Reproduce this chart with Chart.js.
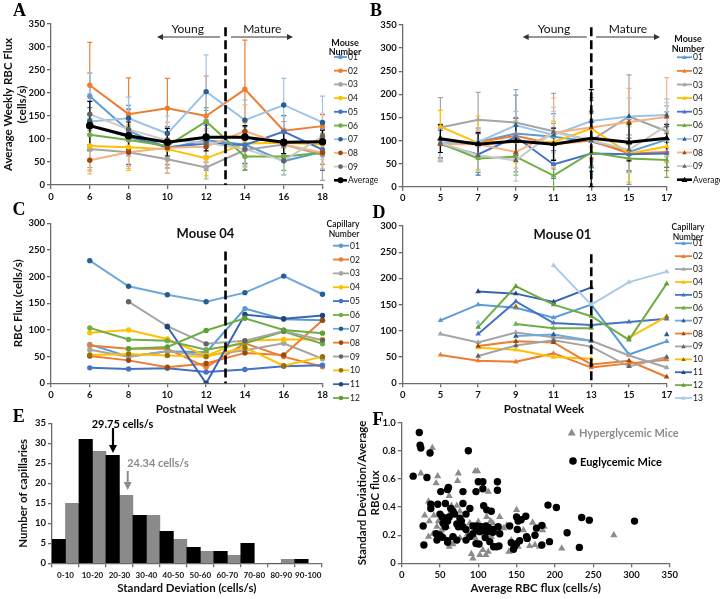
<!DOCTYPE html>
<html>
<head>
<meta charset="utf-8">
<title>RBC flux figure</title>
<script src="https://cdn.jsdelivr.net/npm/chart.js@4.4.1/dist/chart.umd.min.js"></script>
<style>
  body { margin: 0; background: #fff; }
  #fig { position: relative; width: 720px; height: 599px; overflow: hidden; background: #fff; }
  #fig canvas { position: absolute; }
  #overlay { position: absolute; left: 0; top: 0; }
</style>
</head>
<body>
<div id="fig">
  <canvas id="chartA" width="330" height="205" style="left:0;top:0"></canvas>
  <canvas id="chartB" width="315" height="207" style="left:360px;top:0"></canvas>
  <canvas id="chartC" width="330" height="214" style="left:0;top:205px"></canvas>
  <canvas id="chartD" width="315" height="214" style="left:360px;top:205px"></canvas>
  <canvas id="chartE" width="330" height="184" style="left:0;top:415px"></canvas>
  <canvas id="chartF" width="330" height="184" style="left:350px;top:415px"></canvas>
  <svg id="overlay" width="720" height="599"></svg>
</div>
<script>
// categories
const weeksA = ['0', '6', '8', '10', '12', '14', '16', '18'];
const weeksB = ['0', '5', '7', '9', '11', '13', '15', '17'];
const mouseNames = ['01', '02', '03', '04', '05', '06', '07', '08', '09', 'Average'];
const capNamesC = ['01', '02', '03', '04', '05', '06', '07', '08', '09', '10', '11', '12'];
const capNamesD = ['01', '02', '03', '04', '05', '06', '07', '08', '09', '10', '11', '12', '13'];

// A: weekly average flux per mouse (weeks 6..18), last row = average
const fluxA = [
  [193, 118, 80, 97, 88, 52, 72],
  [217, 154, 167, 150, 208, 118, 128],
  [78, 71, 56, 38, 76, 88, 65],
  [85, 82, 78, 58, 90, 92, 88],
  [128, 105, 82, 90, 87, 116, 77],
  [109, 98, 85, 138, 62, 62, 70],
  [138, 145, 112, 203, 141, 174, 136],
  [54, 71, 81, 83, 117, 88, 70],
  [154, 121, 97, 92, 78, 53, 106],
  [129, 107, 93, 104, 104, 93, 94]
];
const errA = [
  [50, 55, 35, 65, 55, 30, 40],
  [93, 79, 65, 87, 107, 20, 25],
  [40, 30, 30, 25, 35, 35, 55],
  [55, 50, 35, 38, 45, 30, 25],
  [40, 60, 45, 40, 40, 35, 45],
  [35, 30, 30, 30, 30, 30, 25],
  [105, 46, 38, 80, 44, 58, 57],
  [30, 35, 55, 35, 57, 30, 35],
  [45, 40, 40, 50, 40, 30, 50],
  [53, 30, 30, 30, 25, 25, 25]
];

// B: weeks 5..17
const fluxB = [
  [95, 97, 115, 108, 98, 75, 102],
  [92, 96, 110, 92, 100, 72, 75],
  [128, 145, 139, 120, 100, 152, 120],
  [130, 95, 97, 97, 126, 72, 87],
  [92, 70, 108, 48, 72, 70, 72],
  [94, 61, 65, 24, 74, 61, 58],
  [95, 97, 133, 112, 142, 152, 155],
  [92, 92, 75, 117, 128, 140, 151],
  [95, 68, 57, 118, 100, 80, 132],
  [104, 92, 99, 92, 105, 96, 105]
];
const errB = [
  [40, 30, 83, 50, 65, 70, 60],
  [35, 25, 40, 45, 40, 40, 40],
  [65, 59, 71, 82, 60, 90, 55],
  [35, 58, 45, 45, 40, 62, 35],
  [30, 45, 40, 30, 30, 35, 30],
  [40, 30, 40, 25, 30, 30, 38],
  [40, 30, 30, 60, 45, 40, 35],
  [35, 30, 35, 75, 65, 73, 85],
  [35, 35, 45, 45, 45, 50, 50],
  [30, 25, 40, 35, 105, 40, 30]
];

// C: mouse 04 capillaries, weeks 6..18
const fluxC = [
  [73, 50, 60, 58, 140, 120, 118],
  [71, 65, 65, 30, 75, 50, 31],
  [63, 50, 60, 52, 62, 75, 46],
  [95, 100, 83, 52, 80, 82, 82],
  [29, 27, 28, 21, 26, 32, 34],
  [104, 82, 80, 63, 75, 97, 74],
  [230, 182, 166, 153, 170, 201, 167],
  [51, 43, 30, 37, 57, 53, 118],
  [null, 153, 107, 74, 80, 98, 81],
  [53, 55, 52, 50, 67, 33, 50],
  [null, null, 106, 0, 129, 121, 127],
  [null, 65, 68, 99, 122, 100, 94]
];

// D: mouse 01 capillaries, weeks 5..17
const fluxD = [
  [120, 150, 144, 125, 150, 55, 80],
  [54, 43, 41, 57, 30, 38, 45],
  [94, 78, 97, 88, 81, 53, 30],
  [null, 68, 64, 50, 47, null, null],
  [null, 94, 156, 115, 111, 117, 123],
  [null, null, 113, 105, 105, null, null],
  [null, null, 90, 93, 81, null, 93],
  [null, 71, 80, 78, 36, 43, 12],
  [null, 52, 72, 82, 70, 32, 50],
  [null, null, 146, null, null, 87, 127],
  [null, 175, 171, 155, 183, null, null],
  [null, 107, 185, 150, 128, 83, 190],
  [null, 116, null, 225, 150, 193, 213]
];

// E: histogram of standard deviation
const sdBins = ['0-10', '10-20', '20-30', '30-40', '40-50', '50-60', '60-70', '70-80', '80-90', '90-100'];
const sdEu = [6, 31, 27, 12, 8, 4, 3, 5, 0, 1];
const sdHy = [15, 28, 17, 12, 6, 3, 2, 0, 1, 0];

// F: SD/average vs average flux
const euFlux = [23, 24, 25, 37, 87, 15, 33, 51, 60, 61, 80, 97, 100, 106, 106, 125, 125, 38, 38, 47,
  57, 80, 107, 111, 117, 89, 84, 64, 67, 69, 50, 53, 57, 60, 62, 76, 78, 28, 54, 57,
  72, 74, 80, 84, 93, 98, 101, 104, 110, 113, 120, 126, 98, 102, 107, 112, 119, 128, 45, 50,
  53, 46, 60, 60, 67, 72, 84, 89, 93, 97, 101, 109, 115, 120, 124, 127, 29, 141, 143, 146,
  147, 150, 152, 156, 162, 151, 150, 154, 163, 164, 174, 176, 183, 183, 193, 191, 202, 216, 232, 235,
  245, 304];
const euRatio = [0.93, 0.84, 0.82, 0.785, 0.80, 0.62, 0.61, 0.51, 0.525, 0.54, 0.51, 0.51, 0.58, 0.58, 0.53, 0.58, 0.52, 0.42, 0.39, 0.42,
  0.425, 0.425, 0.41, 0.38, 0.37, 0.39, 0.35, 0.39, 0.37, 0.35, 0.35, 0.33, 0.32, 0.30, 0.33, 0.32, 0.30, 0.265, 0.285, 0.26,
  0.28, 0.26, 0.26, 0.24, 0.265, 0.265, 0.26, 0.26, 0.265, 0.255, 0.24, 0.26, 0.24, 0.225, 0.235, 0.225, 0.22, 0.21, 0.21, 0.20,
  0.185, 0.165, 0.16, 0.15, 0.19, 0.165, 0.165, 0.19, 0.21, 0.14, 0.137, 0.184, 0.154, 0.118, 0.118, 0.123, 0.13, 0.265, 0.147, 0.10,
  0.118, 0.33, 0.30, 0.31, 0.335, 0.24, 0.14, 0.16, 0.19, 0.177, 0.20, 0.25, 0.27, 0.13, 0.154, 0.414, 0.397, 0.217, 0.113, 0.326,
  0.307, 0.30];
const hyFlux = [25, 40, 47, 45, 74, 73, 96, 99, 113, 35, 30, 36, 42, 62, 65, 72, 76, 35, 41, 48,
  63, 59, 65, 70, 62, 67, 76, 86, 89, 91, 93, 100, 102, 106, 110, 113, 111, 116, 119, 117,
  133, 137, 140, 143, 150, 152, 159, 167, 171, 174, 180, 184, 186, 209, 277, 52, 57, 80, 96, 128, 46];
const hyRatio = [0.64, 0.82, 0.62, 0.57, 0.64, 0.586, 0.655, 0.655, 0.51, 0.44, 0.34, 0.30, 0.34, 0.48, 0.41, 0.41, 0.37, 0.19, 0.21, 0.30,
  0.355, 0.26, 0.19, 0.18, 0.118, 0.137, 0.18, 0.21, 0.285, 0.066, 0.035, 0.295, 0.06, 0.095, 0.06, 0.083, 0.33, 0.30, 0.285, 0.19,
  0.25, 0.27, 0.083, 0.165, 0.38, 0.118, 0.236, 0.123, 0.29, 0.13, 0.118, 0.236, 0.26, 0.106, 0.20, 0.236, 0.177, 0.25, 0.18, 0.33, 0.26];

// colours (Excel-like palette)
const mouseLine = ['#5B9BD5', '#ED7D31', '#A5A5A5', '#FFC000', '#4472C4', '#70AD47', '#9DC3E6', '#F4B183', '#C9C9C9', '#000000'];
const mouseMark = ['#5B9BD5', '#ED7D31', '#A5A5A5', '#FFC000', '#4472C4', '#70AD47', '#255E91', '#9E480E', '#636363', '#000000'];
const capLine = ['#5B9BD5', '#ED7D31', '#A5A5A5', '#FFC000', '#4472C4', '#70AD47', '#6FA8DC', '#ED7D31', '#A5A5A5', '#FFC000', '#3B64B5', '#70AD47', '#A9CBEA'];
const capMark = ['#5B9BD5', '#ED7D31', '#A5A5A5', '#FFC000', '#4472C4', '#70AD47', '#255E91', '#9E480E', '#636363', '#997300', '#264478', '#5E9E34', '#A9CBEA'];

Chart.defaults.font.family = 'Lato, "Open Sans", sans-serif';
Chart.defaults.color = '#111';
const axisGrey = '#6b6b6b';
const tickFont = { size: 9.5, weight: 'bold' };

const errorBars = {
  id: 'errorBars',
  beforeDatasetsDraw(chart) {
    const { ctx, scales: { y } } = chart;
    chart.data.datasets.forEach((ds, i) => {
      if (!ds.errors) return;
      const pts = chart.getDatasetMeta(i).data;
      ctx.save();
      ctx.strokeStyle = ds.errorColor;
      ctx.lineWidth = 1.2;
      ds.data.forEach((v, j) => {
        const e = ds.errors[j];
        if (v == null || e == null) return;
        const x = pts[j].x;
        const top = y.getPixelForValue(v + e);
        const bot = y.getPixelForValue(Math.max(0, v - e));
        ctx.beginPath();
        ctx.moveTo(x, top); ctx.lineTo(x, bot);
        ctx.moveTo(x - 2.5, top); ctx.lineTo(x + 2.5, top);
        ctx.moveTo(x - 2.5, bot); ctx.lineTo(x + 2.5, bot);
        ctx.stroke();
      });
      ctx.restore();
    });
  }
};

const weekLine = {
  id: 'weekLine',
  afterDatasetsDraw(chart, args, opts) {
    const { ctx, scales: { x, y } } = chart;
    const px = x.getPixelForValue(opts.at);
    ctx.save();
    ctx.strokeStyle = '#000';
    ctx.lineWidth = 2.6;
    ctx.setLineDash([9, 4]);
    ctx.beginPath();
    ctx.moveTo(px, y.getPixelForValue(opts.top));
    ctx.lineTo(px, y.getPixelForValue(0));
    ctx.stroke();
    ctx.restore();
  }
};

function gridTicks() {
  return { display: true, drawOnChartArea: false, drawTicks: true, tickLength: 4, color: axisGrey, lineWidth: 1.3 };
}

function lineChart(id, labels, rows, errs, names, lc, mc, style, o) {
  const n = rows.length;
  const datasets = rows.map((r, i) => {
    const avg = names[i] === 'Average';
    return {
      label: names[i],
      data: [null, ...r],
      errors: errs ? [null, ...errs[i]] : null,
      errorColor: lc[i],
      borderColor: lc[i],
      backgroundColor: mc[i],
      pointBackgroundColor: mc[i],
      pointBorderColor: mc[i],
      pointBorderWidth: 0,
      pointStyle: style,
      pointRadius: avg ? 3.8 : (style === 'triangle' ? 3.2 : 2.7),
      borderWidth: avg ? 3 : 2,
      spanGaps: false,
      order: n - i
    };
  });
  return new Chart(document.getElementById(id), {
    type: 'line',
    data: { labels, datasets },
    options: {
      responsive: false,
      animation: false,
      events: [],
      layout: { padding: o.pad },
      plugins: { legend: { display: false }, tooltip: { enabled: false }, weekLine: { at: o.at, top: o.top } },
      scales: {
        x: {
          type: 'category', offset: false,
          border: { display: true, color: axisGrey, width: 1.3 },
          grid: gridTicks(),
          ticks: { font: tickFont, padding: 2, maxRotation: 0, autoSkip: false },
          afterFit: s => { s.height = o.xh; }
        },
        y: {
          min: 0, max: o.ymax,
          border: { display: true, color: axisGrey, width: 1.3 },
          grid: gridTicks(),
          ticks: { stepSize: 50, font: tickFont, padding: 2 },
          title: o.ytitle ? { display: true, text: o.ytitle, font: { size: 11.5, weight: 'bold' }, padding: { top: o.ytp, bottom: 0 } } : { display: false },
          afterFit: s => { s.width = o.yw; }
        }
      }
    },
    plugins: [errorBars, weekLine]
  });
}

lineChart('chartA', weeksA, fluxA, errA, mouseNames, mouseLine, mouseMark, 'circle',
  { pad: { top: 24, right: 7, left: 0, bottom: 0 }, xh: 20, yw: 51, ymax: 350, at: 4.5, top: 343,
    ytitle: ['Average Weekly RBC Flux', '(cells/s)'], ytp: 1.2 });
lineChart('chartB', weeksB, fluxB, errB, mouseNames, mouseLine, mouseMark, 'triangle',
  { pad: { top: 25, right: 8.3, left: 0, bottom: 0 }, xh: 20.3, yw: 42.7, ymax: 350, at: 5, top: 345 });
lineChart('chartC', weeksA, fluxC, null, capNamesC, capLine, capMark, 'circle',
  { pad: { top: 18.3, right: 7, left: 0, bottom: 0 }, xh: 35.7, yw: 51, ymax: 300, at: 4.5, top: 247,
    ytitle: 'RBC Flux (cells/s)', ytp: 11 });
lineChart('chartD', weeksB, fluxD, null, capNamesD, capLine, capMark, 'triangle',
  { pad: { top: 21, right: 8.3, left: 0, bottom: 0 }, xh: 35.7, yw: 42.7, ymax: 300, at: 5, top: 246 });

new Chart(document.getElementById('chartE'), {
  type: 'bar',
  data: {
    labels: sdBins,
    datasets: [
      { label: 'Euglycemic', data: sdEu, backgroundColor: '#000', barPercentage: 1, categoryPercentage: 1 },
      { label: 'Hyperglycemic', data: sdHy, backgroundColor: '#8a8a8a', barPercentage: 1, categoryPercentage: 1 }
    ]
  },
  options: {
    responsive: false, animation: false, events: [],
    layout: { padding: { top: 8.3, right: 8.3, left: 0, bottom: 0 } },
    plugins: { legend: { display: false }, tooltip: { enabled: false } },
    scales: {
      x: {
        border: { display: true, color: axisGrey, width: 1.3 },
        grid: Object.assign(gridTicks(), { offset: true }),
        ticks: { font: { size: 8, weight: 'bold' }, padding: 3, maxRotation: 0, autoSkip: false },
        title: { display: true, text: 'Standard Deviation (cells/s)', font: { size: 11.5, weight: 'bold' }, padding: { top: 0, bottom: 4 } },
        afterFit: s => { s.height = 35.7; }
      },
      y: {
        min: 0, max: 35,
        border: { display: true, color: axisGrey, width: 1.3 },
        grid: gridTicks(),
        ticks: { stepSize: 5, font: tickFont, padding: 2 },
        title: { display: true, text: 'Number of capillaries', font: { size: 11.5, weight: 'bold' }, padding: { top: 16, bottom: 0 } },
        afterFit: s => { s.width = 52; }
      }
    }
  }
});

new Chart(document.getElementById('chartF'), {
  type: 'scatter',
  data: {
    datasets: [
      { label: 'Euglycemic Mice', data: euFlux.map((x, i) => ({ x, y: euRatio[i] })),
        pointStyle: 'circle', pointRadius: 3.7, pointBorderWidth: 0, backgroundColor: '#000', borderColor: '#000', order: 0 },
      { label: 'Hyperglycemic Mice', data: hyFlux.map((x, i) => ({ x, y: hyRatio[i] })),
        pointStyle: 'triangle', pointRadius: 4.2, pointBorderWidth: 0, backgroundColor: '#8c8c8c', borderColor: '#8c8c8c', order: 1 }
    ]
  },
  options: {
    responsive: false, animation: false, events: [],
    layout: { padding: { top: 7.3, right: 10, left: 0, bottom: 0 } },
    plugins: { legend: { display: false }, tooltip: { enabled: false } },
    scales: {
      x: {
        type: 'linear', min: 0, max: 350,
        border: { display: true, color: axisGrey, width: 1.3 },
        grid: gridTicks(),
        ticks: { stepSize: 50, font: tickFont, padding: 2, maxRotation: 0 },
        title: { display: true, text: 'Average RBC flux (cells/s)', font: { size: 11.5, weight: 'bold' }, padding: { top: 0, bottom: 4 } },
        afterFit: s => { s.height = 35.7; }
      },
      y: {
        min: 0, max: 1,
        border: { display: true, color: axisGrey, width: 1.3 },
        grid: gridTicks(),
        ticks: { stepSize: 0.2, font: tickFont, padding: 2 },
        title: { display: true, text: ['Standard Deviation/Average', 'RBC flux'], font: { size: 11.5, weight: 'bold' }, padding: { top: 5, bottom: 0 } },
        afterFit: s => { s.width = 51.7; }
      }
    }
  }
});

// overlay: panel letters, annotations, legends
const ov = [];
function T(x, y, s, o = {}) {
  ov.push(`<text x="${x}" y="${y}" font-size="${o.size || 9}" font-weight="${o.weight || 'normal'}" fill="${o.fill || '#111'}" text-anchor="${o.anchor || 'middle'}" dominant-baseline="central" font-family="${o.fam || 'Lato, sans-serif'}">${s}</text>`);
}
function hArrow(x1, x2, y) {
  const d = Math.sign(x2 - x1);
  ov.push(`<line x1="${x1}" y1="${y}" x2="${x2 - d * 5}" y2="${y}" stroke="#333" stroke-width="1"/>`);
  ov.push(`<polygon points="${x2},${y} ${x2 - d * 6},${y - 3} ${x2 - d * 6},${y + 3}" fill="#333"/>`);
}
function vArrow(x, y1, y2, c, w) {
  ov.push(`<line x1="${x}" y1="${y1}" x2="${x}" y2="${y2 - 6}" stroke="${c}" stroke-width="${w}"/>`);
  ov.push(`<polygon points="${x},${y2} ${x - 4},${y2 - 8} ${x + 4},${y2 - 8}" fill="${c}"/>`);
}
function marker(cx, cy, r, c, shape) {
  if (shape === 'circle') ov.push(`<circle cx="${cx}" cy="${cy}" r="${r}" fill="${c}"/>`);
  else ov.push(`<polygon points="${cx},${cy - r} ${cx - r},${cy + r * 0.75} ${cx + r},${cy + r * 0.75}" fill="${c}"/>`);
}
function legend(x0, x1, tx, y0, dy, names, lc, mc, shape) {
  names.forEach((nm, i) => {
    const y = y0 + i * dy, avg = nm === 'Average';
    ov.push(`<line x1="${x0}" y1="${y}" x2="${x1}" y2="${y}" stroke="${lc[i]}" stroke-width="${avg ? 2.6 : 1.8}"/>`);
    marker((x0 + x1) / 2, y, avg ? 3 : 2.3, mc[i], shape);
    T(tx, y, nm, { size: 8.5, anchor: 'start' });
  });
}

const letterFont = { size: 18, weight: 'bold', fam: '"Liberation Sans", Arial, sans-serif', fill: '#000' };
T(19.5, 9.5, 'A', letterFont);
T(376, 9.5, 'B', letterFont);
T(19, 208.5, 'C', letterFont);
T(379, 211.5, 'D', letterFont);
T(18.7, 415.5, 'E', letterFont);
T(378, 418.5, 'F', letterFont);

// Young / Mature
T(187.7, 28.5, 'Young', { size: 12 });
T(262.3, 28.5, 'Mature', { size: 12 });
hArrow(220, 157, 37); hArrow(231, 293, 37);
T(554, 28.5, 'Young', { size: 12 });
T(628, 28.5, 'Mature', { size: 12 });
hArrow(586.7, 522.7, 37); hArrow(596, 660, 37);

T(205.5, 233, 'Mouse 04', { size: 13, weight: 'bold' });
T(562.5, 233.5, 'Mouse 01', { size: 13, weight: 'bold' });
T(196, 408.5, 'Postnatal Week', { size: 11.5, weight: 'bold' });
T(544, 408.5, 'Postnatal Week', { size: 11.5, weight: 'bold' });

// legends
T(345, 42, 'Mouse', { size: 9, weight: 'bold' });
T(345, 51, 'Number', { size: 9, weight: 'bold' });
legend(334, 347, 348, 57, 13.7, mouseNames, mouseLine, mouseMark, 'circle');
T(688, 38.5, 'Mouse', { size: 9, weight: 'bold' });
T(688, 48.5, 'Number', { size: 9, weight: 'bold' });
legend(677, 692, 693, 57.3, 13.6, mouseNames, mouseLine, mouseMark, 'triangle');
T(343, 223.5, 'Capillary', { size: 8.5, weight: '600' });
T(344, 233.5, 'Number', { size: 8.5, weight: '600' });
legend(333, 349, 350, 245.7, 13.85, capNamesC, capLine, capMark, 'circle');
T(688, 226.5, 'Capillary', { size: 8.5, weight: '600' });
T(688, 236.5, 'Number', { size: 8.5, weight: '600' });
legend(675, 692, 693, 243.3, 12.89, capNamesD, capLine, capMark, 'triangle');

// E annotations
T(122.5, 423.5, '29.75 cells/s', { size: 11, weight: 'bold', fill: '#000' });
vArrow(113, 428, 453, '#000', 2.2);
T(158, 462.5, '24.34 cells/s', { size: 11, weight: 'bold', fill: '#8c8c8c' });
vArrow(127.7, 471, 490, '#8c8c8c', 2);

// F legend
marker(571.7, 432.5, 4, '#8c8c8c', 'triangle');
T(579, 432.5, 'Hyperglycemic Mice', { size: 11, weight: 'bold', fill: '#8c8c8c', anchor: 'start' });
marker(573, 461, 3.8, '#000', 'circle');
T(580, 461, 'Euglycemic Mice', { size: 11, weight: 'bold', fill: '#000', anchor: 'start' });

document.getElementById('overlay').innerHTML = ov.join('');
</script>
</body>
</html>
